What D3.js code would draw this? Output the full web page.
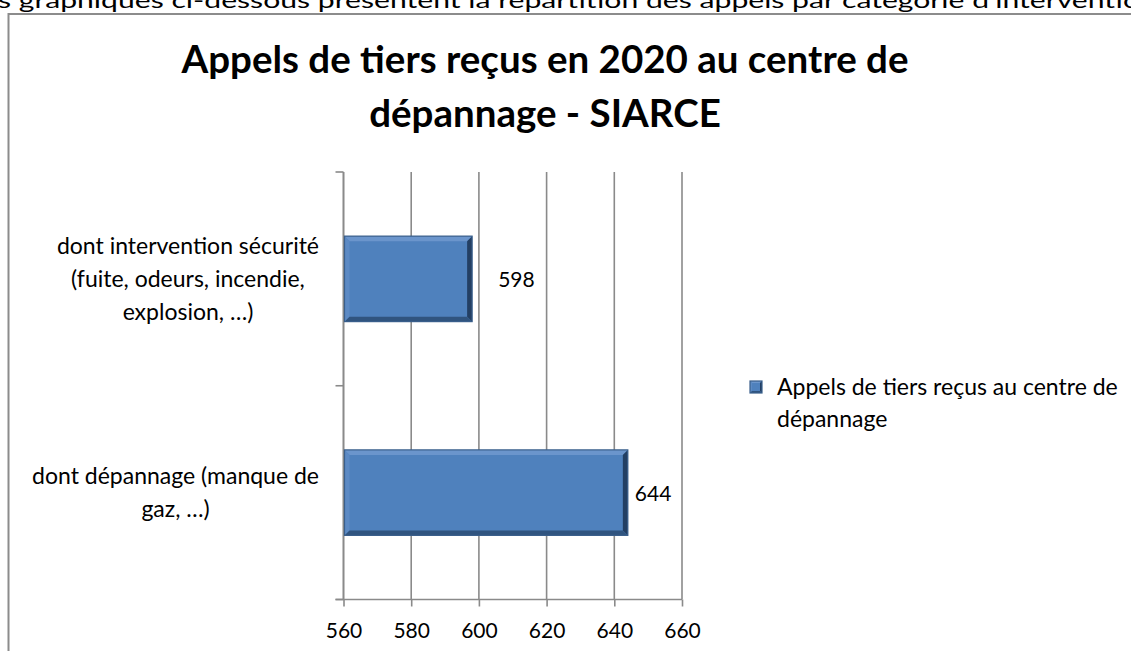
<!DOCTYPE html>
<html>
<head>
<meta charset="utf-8">
<script src="https://cdn.jsdelivr.net/npm/d3@7"></script>
<style>
  body { margin: 0; background: #fff; }
  svg { display: block; font-family: Lato, "Open Sans", sans-serif; }
</style>
</head>
<body>
<div id="chart"></div>
<script>
// chart data
const categories = ["securite", "depannage"];
const categoryLines = [
	["dont intervention sécurité", "(fuite, odeurs, incendie,", "explosion, …)"],
	["dont dépannage (manque de", "gaz, …)"]
];
const values = [598, 644];
const tickValues = [560, 580, 600, 620, 640, 660];
const titleLines = ["Appels de tiers reçus en 2020 au centre de", "dépannage - SIARCE"];
const legendLines = ["Appels de tiers reçus au centre de", "dépannage"];
const pageText = "s graphiques ci-dessous présentent la répartition des appels par catégorie d'interventio";

var W = 1131, H = 651;
var plotL = 343.5, plotR = 682, plotT = 172, plotB = 599.5;
var gridColor = "#8a8a8a";
var labelDx = [26, 7]; // label offsets from bar end

var svg = d3.select("#chart").append("svg")
	.attr("width", W)
	.attr("height", H);

svg.append("rect").attr("width", W).attr("height", H).attr("fill", "#fff");

// clipped line of document text above the chart
svg.append("text")
	.attr("x", -2)
	.attr("y", 8)
	.attr("font-size", 22)
	.attr("textLength", 1142)
	.attr("lengthAdjust", "spacingAndGlyphs")
	.attr("fill", "#000")
	.text(pageText);

// chart frame
svg.append("rect")
	.attr("x", 8.5).attr("y", 14)
	.attr("width", 1200).attr("height", 700)
	.attr("fill", "#fff")
	.attr("stroke", "#8c8c8c")
	.attr("stroke-width", 2);

// title
svg.append("g").selectAll("text")
	.data(titleLines)
	.enter().append("text")
	.attr("x", 545)
	.attr("y", function(d, i) { return 73 + i * 54; })
	.attr("text-anchor", "middle")
	.attr("font-size", 38.5)
	.attr("font-weight", "bold")
	.attr("fill", "#000")
	.text(function(d) { return d; });

var x = d3.scaleLinear().domain([560, 660]).range([plotL, plotR]);
var y = d3.scaleBand().domain(categories).range([plotT, plotB])
	.paddingInner(0.6).paddingOuter(0.3);

// vertical gridlines
svg.append("g")
	.selectAll("line")
	.data(tickValues)
	.enter().append("line")
	.attr("x1", function(d) { return x(d); })
	.attr("x2", function(d) { return x(d); })
	.attr("y1", plotT)
	.attr("y2", plotB)
	.attr("stroke", gridColor)
	.attr("stroke-width", 1.6);

// x axis
var xAxis = svg.append("g")
	.attr("transform", "translate(0," + plotB + ")")
	.call(d3.axisBottom(x).tickValues(tickValues).tickSize(7).tickSizeOuter(0).tickPadding(17));
xAxis.select(".domain").remove();
xAxis.selectAll(".tick line").attr("stroke", gridColor).attr("stroke-width", 1.6);
xAxis.selectAll("text")
	.attr("font-size", 21)
	.attr("font-family", "Lato, sans-serif")
	.attr("fill", "#000");
xAxis.append("line")
	.attr("x1", plotL - 8).attr("x2", plotR)
	.attr("stroke", gridColor).attr("stroke-width", 1.6);

// y axis with ticks at category boundaries
var bounds = d3.range(categories.length + 1).map(function(i) { return plotT + i * (plotB - plotT) / categories.length; });
svg.append("line")
	.attr("x1", plotL).attr("x2", plotL)
	.attr("y1", plotT).attr("y2", plotB)
	.attr("stroke", gridColor).attr("stroke-width", 1.6);
svg.append("g").selectAll("line")
	.data(bounds)
	.enter().append("line")
	.attr("x1", plotL - 8).attr("x2", plotL)
	.attr("y1", function(d) { return d; })
	.attr("y2", function(d) { return d; })
	.attr("stroke", gridColor).attr("stroke-width", 1.6);

// category labels: block right aligned, lines centred in block
var catG = svg.append("g");
categories.forEach(function(c, ci) {
	var lines = categoryLines[ci];
	var cy = y(c) + y.bandwidth() / 2;
	var t = catG.append("g");
	var texts = t.selectAll("text")
		.data(lines)
		.enter().append("text")
		.attr("y", function(d, i) { return cy + 8 + (i - (lines.length - 1) / 2) * 33; })
		.attr("text-anchor", "middle")
		.attr("font-size", 23)
		.attr("fill", "#000")
		.text(function(d) { return d; });
	var maxW = 0;
	texts.each(function() { maxW = Math.max(maxW, this.getComputedTextLength()); });
	texts.attr("x", 319 - maxW / 2);
});

// bevelled bar
function bevelBar(g, x0, y0, x1, y1, b) {
	g.append("rect")
		.attr("x", x0).attr("y", y0)
		.attr("width", x1 - x0).attr("height", y1 - y0)
		.attr("fill", "#4f81bd");
	var faces = [
		{ pts: [[x0, y0], [x1, y0], [x1 - b, y0 + b], [x0 + b, y0 + b]], fill: "#6b95cc" },
		{ pts: [[x0, y0], [x0 + b, y0 + b], [x0 + b, y1 - b], [x0, y1]], fill: "#5c8ac4" },
		{ pts: [[x1, y0], [x1, y1], [x1 - b, y1 - b], [x1 - b, y0 + b]], fill: "#233f63" },
		{ pts: [[x0, y1], [x1, y1], [x1 - b, y1 - b], [x0 + b, y1 - b]], fill: "#30547f" }
	];
	g.selectAll("polygon.f")
		.data(faces)
		.enter().append("polygon")
		.attr("points", function(d) { return d.pts.map(function(p) { return p.join(","); }).join(" "); })
		.attr("fill", function(d) { return d.fill; });
	g.append("rect")
		.attr("x", x0).attr("y", y0)
		.attr("width", x1 - x0).attr("height", y1 - y0)
		.attr("fill", "none")
		.attr("stroke", "#3a5f8b")
		.attr("stroke-width", 1.2);
}

var barsG = svg.append("g");
categories.forEach(function(c, i) {
	var g = barsG.append("g");
	bevelBar(g, x(560) + 1, y(c), x(values[i]), y(c) + y.bandwidth(), 5);
});

// data labels
svg.append("g").selectAll("text")
	.data(values)
	.enter().append("text")
	.attr("x", function(d, i) { return x(d) + labelDx[i]; })
	.attr("y", function(d, i) { return y(categories[i]) + y.bandwidth() / 2 + 8; })
	.attr("font-size", 21)
	.attr("fill", "#000")
	.text(function(d) { return d; });

// legend
var leg = svg.append("g");
bevelBar(leg.append("g"), 750, 381, 762, 393, 2);
leg.selectAll("text")
	.data(legendLines)
	.enter().append("text")
	.attr("x", 777)
	.attr("y", function(d, i) { return 395 + i * 32; })
	.attr("font-size", 23)
	.attr("fill", "#000")
	.text(function(d) { return d; });
</script>
</body>
</html>
